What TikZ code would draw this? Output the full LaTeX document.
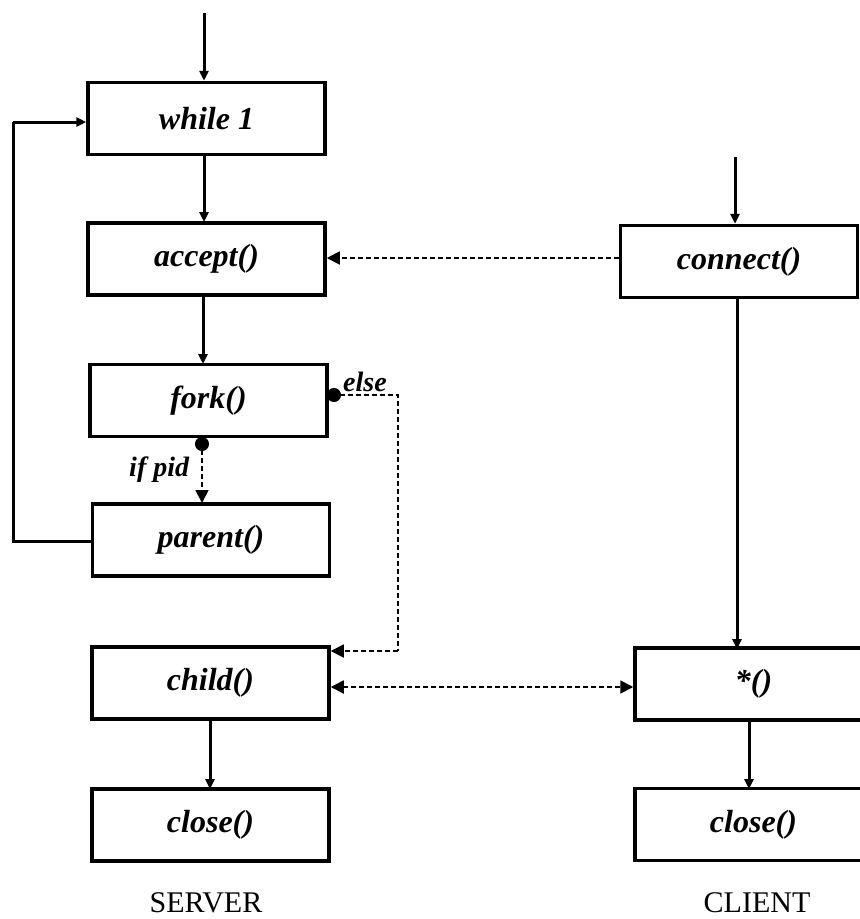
\documentclass[tikz,border=0pt]{standalone}
\usepackage{fontspec}
\setmainfont{Liberation Serif}
\usetikzlibrary{arrows.meta}
\tikzset{
  box/.style={draw, line width=3.5pt, minimum width=237pt, minimum height=72pt, inner sep=0pt,
    font=\fontsize{32}{36}\selectfont\bfseries\itshape},
  flow/.style={line width=3pt, -{Triangle[length=10pt,width=9pt]}},
  plain/.style={line width=3pt},
  dashline/.style={line width=1.8pt, dash pattern=on 5pt off 3pt},
  bigtip/.tip={Triangle[length=13pt,width=13pt]},
  dottip/.tip={Circle[length=14pt]},
  lbl/.style={font=\fontsize{28}{32}\selectfont\bfseries\itshape, inner sep=0pt},
  side/.style={font=\fontsize{30}{34}\selectfont, inner sep=0pt}
}
\begin{document}
\begin{tikzpicture}[x=1pt,y=-1pt]
\useasboundingbox (0,0) rectangle (860,919);
\clip (0,0) rectangle (860,919);
\fill[white] (0,0) rectangle (860,919);
% server column
\node[box] (while) at (206.5,118.5) {while 1};
\node[box] (accept) at (206.5,259) {accept()};
\node[box] (fork) at (208.5,400.5) {fork()};
\node[box] (parent) at (211,540) {parent()};
\node[box] (child) at (210.5,683) {child()};
\node[box] (closeS) at (210.5,825) {close()};
% client column
\node[box] (connect) at (739,261.5) {connect()};
\node[box] (star) at (753.5,684) {*()};
\node[box] (closeC) at (753.5,824.5) {close()};
% labels
\node[side] (server) at (206,903) {SERVER};
\node[side] (client) at (757,903) {CLIENT};
\coordinate (topS) at (204,13);
\coordinate (topC) at (735,157);
\coordinate (loopA) at (13,541);
\coordinate (loopB) at (13,122);
\coordinate (elseA) at (398,395);
\coordinate (elseB) at (398,651);
% solid connectors
\draw[flow] (topS) -- (topS |- while.north);
\draw[flow] (204,155) -- (204,222);
\draw[flow] (203,296) -- (203,364);
\draw[plain] (parent.west |- loopA) -- (loopA) -- (loopB);
\draw[flow] (loopB) -- (while.west |- loopB);
\draw[flow] (topC) -- (topC |- connect.north);
\draw[flow] (737,297) -- (737,649);
\draw[flow] (210,719) -- (210,789);
\draw[flow] (749,719) -- (749,789);
% dashed connectors
\draw[dashline, dottip-bigtip] (202,437) -- node[lbl, left=12pt, pos=0.5] (ifpid) {if pid} (202,503);
\draw[dashline, dottip-] (327,395) -- (elseA) -- (elseB);
\draw[dashline, -bigtip] (elseB) -- (child.east |- elseB);
\node[lbl] (else) at (365,382) {else};
\draw[dashline, -bigtip] (connect.west |- 0,258) -- (accept.east |- 0,258);
\draw[dashline, bigtip-bigtip] (child.east |- 0,687) -- (star.west |- 0,687);
\end{tikzpicture}
\end{document}
